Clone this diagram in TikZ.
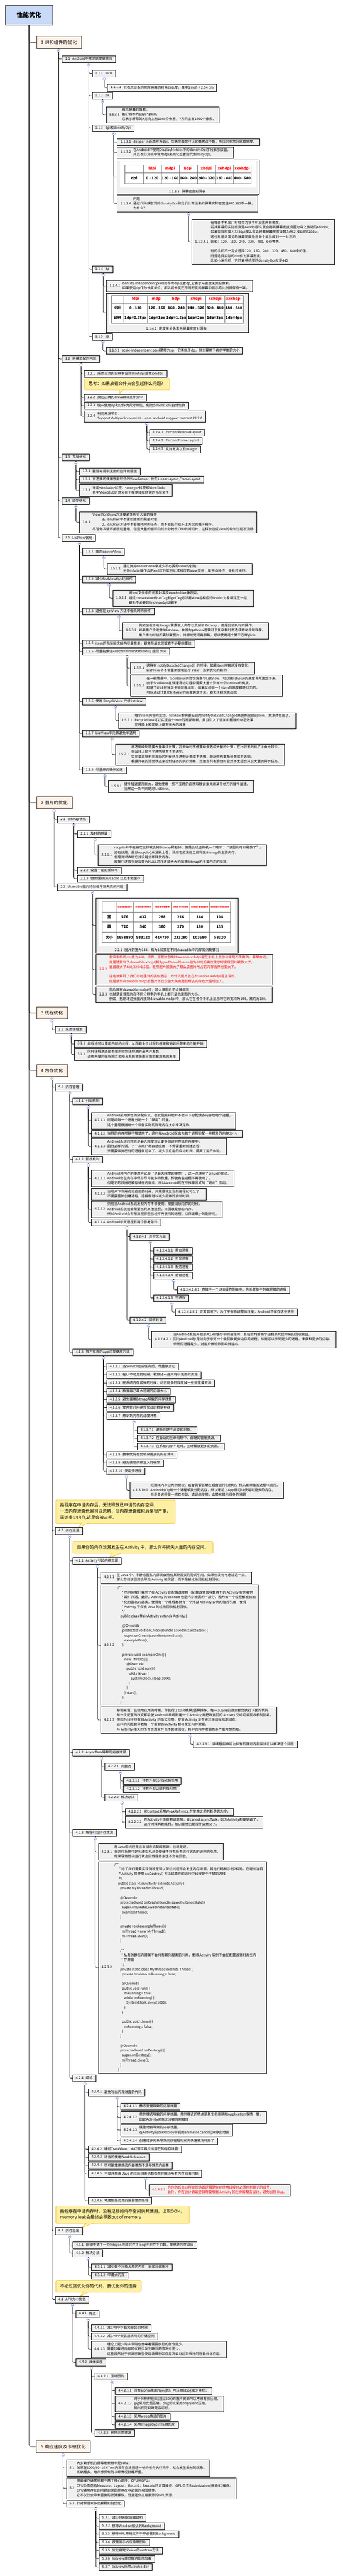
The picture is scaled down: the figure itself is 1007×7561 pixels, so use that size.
\documentclass[tikz,border=0pt]{standalone}
\usepackage{fontspec}
\setmainfont{Noto Sans CJK SC}
\usetikzlibrary{calc}
\definecolor{nodegray}{HTML}{F0F0F0}
\definecolor{l1fill}{HTML}{FDF2E9}
\definecolor{l1border}{HTML}{4A3A2E}
\definecolor{rootfill}{HTML}{C9DAF8}
\definecolor{collblue}{HTML}{5B87D0}
\definecolor{cofill}{HTML}{FDF0A4}
\definecolor{coborder}{HTML}{F2B21B}
\definecolor{tblgrid}{HTML}{7A7A7A}
\newcommand{\tl}[2]{#1\hspace{7pt}\begin{tabular}[c]{@{}l@{}}#2\end{tabular}}
\newcommand{\idt}[1]{\hspace*{#1pt}}
\newcommand{\cl}[1]{\begin{tabular}{@{}l@{}}#1\end{tabular}}
\tikzset{
  conn/.style={draw=black, line width=0.9pt, rounded corners=4pt},
  nb/.style={draw=black, line width=0.8pt, fill=nodegray, inner xsep=9.5pt, inner ysep=3pt, anchor=west, font=\fontsize{10}{14}\selectfont, text=black},
  l1/.style={draw=l1border, line width=0.9pt, fill=l1fill, inner xsep=13pt, inner ysep=0pt, minimum height=35pt, anchor=west, font=\fontsize{13.5}{18}\selectfont},
  rootbox/.style={draw=black!80, line width=0.9pt, fill=rootfill, minimum width=138pt, minimum height=57pt, font=\fontsize{18}{22}\selectfont\bfseries},
  coll/.style={circle, draw=collblue, fill=white, line width=0.6pt, minimum size=8.5pt, inner sep=0pt,
    path picture={\draw[collblue, line width=0.7pt] ([xshift=-2.2pt]path picture bounding box.center) -- ([xshift=2.2pt]path picture bounding box.center);}},
  callout/.style={draw=coborder, fill=cofill, rounded corners=4pt, line width=0.8pt, inner xsep=13pt, inner ysep=8pt, anchor=north west, font=\fontsize{12.5}{18}\selectfont},
  tailst/.style={draw=coborder, fill=cofill, line width=0.8pt, line join=round},
  tbl/.style={draw=tblgrid, line width=0.7pt},
  thr/.style={inner sep=0pt, text=red, font=\fontsize{11}{13}\selectfont\bfseries},
  thrs/.style={inner sep=0pt, text=red, font=\fontsize{5.8}{7}\selectfont\bfseries},
  tbd/.style={inner sep=0pt, text=black, font=\fontsize{11}{13}\selectfont\bfseries},
  capt/.style={inner sep=0pt, font=\fontsize{10}{14}\selectfont},
}
\newcommand{\branch}[4]{%
  \node[coll] (#1) at (#2) {};
  \draw[conn] (#1.north) -- (#1.north |- #3.south);
  \foreach \k in {#4}{\draw[conn] (#1.south) |- (\k.west);}%
}
\newcommand{\tail}[5]{\filldraw[tailst] (#1,#3) -- (#4,#5) -- (#2,#3);}
\begin{document}
\begin{tikzpicture}[x=1pt,y=-1pt]
\useasboundingbox (0,0) rectangle (1007,7561);
\fill[white] (0,0) rectangle (1007,7561);

% ---------- root and level 1
\node[rootbox] (root) at (85,44.5) {性能优化};
\node[l1] (n1) at (107,124.5) {1 UI和组件的优化};
\node[l1] (n2) at (107,2356) {2 图片的优化};
\node[l1] (n3) at (107,2973) {3 线程优化};
\node[l1] (n4) at (107,3142) {4 内存优化};
\node[l1] (n5) at (106.6,7181.3) {5 响应速度及卡顿优化};

% ---------- 1
\node[nb] (n11) at (182,173.5) {\tl{1.1}{Android中常见的度量单位}};
\node[nb] (n111) at (270,215.5) {\tl{1.1.1}{inch}};
\node[nb] (n1111) at (315,257.5) {\tl{1.1.1.1}{它表示设备的物理屏幕的对角线长度，其中1 inch = 2.54 cm}};
\node[nb] (n112) at (270,281) {\tl{1.1.2}{px}};
\node[nb] (n1121) at (311,337) {\tl{1.1.2.1}{表示屏幕的像素。\\如分辨率为1920*1080，\\它表示屏幕的X方向上有1080个像素，Y方向上有1920个像素。}};
\node[nb] (n113) at (270,376) {\tl{1.1.3}{dpi和densityDpi}};
\node[nb] (n1131) at (344,417.5) {\tl{1.1.3.1}{dot per inch简称为dpi，它表示每英寸上的像素点个数，所以它也常为屏幕密度。}};
\node[nb] (n1132) at (344,448) {\tl{1.1.3.2}{在Android中使用DisplayMetrics中的densityDpi字段表示该值，\\并且不少文档中常用dpi来简化或者指代densityDpi。}};
% table 1.1.3.3
\node[nb, anchor=north west, minimum width=416pt, minimum height=101pt, inner sep=0pt] (n1133) at (344,469) {};
\fill[white] (353,472) rectangle (752,550);
\draw[tbl] (367,484) rectangle (737,539);
\draw[tbl] (367,507) -- (737,507);
\foreach \x in {421,473,526,579,632,685} \draw[tbl] (\x,484) -- (\x,539);
\foreach \x/\t [count=\i] in {447/ldpi,499.5/mdpi,552.5/hdpi,605.5/xhdpi,658.5/xxhdpi,711/xxxhdpi} \node[thr] (ta\i) at (\x,495.5) {\t};
\foreach \x/\t [count=\i] in {394/dpi,447/0 - 120,499.5/120 - 160,552.5/160 - 240,605.5/240 - 320,658.5/320 - 480,711/480 - 640} \node[tbd] (tb\i) at (\x,523) {\t};
\node[capt] (cap1) at (550,562) {1.1.3.3\hspace{7pt}屏幕密度对照表};
\node[nb] (n1134) at (344,598) {\tl{1.1.3.4}{问题\\通过代码获取到的densityDpi和我们计算出来的屏幕实际密度值440.582不一样，\\为什么？}};
\node[nb] (n11341) at (563,710) {\tl{1.1.3.4.1}{在每部手机出厂时都会为该手机设置屏幕密度，\\若其屏幕的实际密度是440dpi那么就会将其屏幕密度设置为与之接近的480dpi；\\如果实际密度为325dpi那么就会将其屏幕密度设置为与之接近的320dpi。\\这也就是说常见的屏幕密度是与每个显示级别一一对应的，\\比如：120、160、240、320、480、640等等。\\ \\有的手机不一定会选择120、160、240、320、480、640中的值，\\而是选择实际的dpi作为屏幕密度。\\比如小米手机，它的某些机型的densityDpi就是440}};
\node[nb] (n114) at (270,790) {\tl{1.1.4}{dp}};
\node[nb] (n1141) at (312,839.5) {\tl{1.1.4.1}{density-independent pixel简称为dip或者dp,它表示与密度无关的像素。\\如果使用dp作为长度单位，那么该长度在不同密度的屏幕中显示的比例将保持一致。}};
% table 1.1.4.2
\node[nb, anchor=north west, minimum width=417pt, minimum height=115pt, inner sep=0pt] (n1142) at (312,860) {};
\fill[white] (320,862) rectangle (719,953);
\draw[tbl] (327,867) rectangle (714,948);
\draw[tbl] (327,889) -- (714,889);
\draw[tbl] (327,918) -- (714,918);
\foreach \x in {363,433,488,547,604,659} \draw[tbl] (\x,867) -- (\x,948);
\foreach \x/\t [count=\i] in {398/ldpi,460.5/mdpi,517.5/hdpi,575.5/xhdpi,631.5/xxhdpi,686.5/xxxhdpi} \node[thr] (tc\i) at (\x,878) {\t};
\foreach \x/\t [count=\i] in {345/dpi,398/0 - 120,460.5/120 - 160,517.5/160 - 240,575.5/240 - 320,631.5/320 - 480,686.5/480 - 640} \node[tbd] (td\i) at (\x,903.5) {\t};
\foreach \x/\t [count=\i] in {345/比例,398/1dp=0.75px,460.5/1dp=1px,517.5/1dp=1.5px,575.5/1dp=2px,631.5/1dp=3px,686.5/1dp=4px} \node[tbd] (te\i) at (\x,933) {\t};
\node[capt] (cap2) at (518,965) {1.1.4.2\hspace{7pt}密度无关像素与屏幕密度对照表};
\node[nb] (n115) at (270,988.5) {\tl{1.1.5}{sp}};
\node[nb] (n1151) at (311,1030) {\tl{1.1.5.1}{scale-independent pixel简称为sp，它类似于dp，但主要用于表示字体的大小}};
\node[nb] (n12) at (182,1054) {\tl{1.2}{屏幕适配的问题}};
\node[nb] (n121) at (247,1097) {\tl{1.2.1}{采用主流的分辨率设计UI(xhdpi或者xxhdpi)}};
\node[callout] (co1) at (247,1110) {\cl{思考：如果放错文件夹会引起什么问题？}};
\tail{351}{363}{1142}{351}{1156.5}
\node[nb] (n122) at (247,1166.5) {\tl{1.2.2}{放在正确的drawable文件夹中}};
\node[nb] (n123) at (247,1190.5) {\tl{1.2.3}{统一使用dp和sp作为尺寸单位，利用dimens.xml自动切换}};
\node[nb] (n124) at (247,1222) {\tl{1.2.4}{利用开源项目：\\SupportMultipleScreensUtil、com.android.support:percent:22.2.0}};
\node[nb] (n1241) at (439,1270) {\tl{1.2.4.1}{PercentRelativeLayout}};
\node[nb] (n1242) at (439,1294.5) {\tl{1.2.4.2}{PercentFrameLayout}};
\node[nb] (n1243) at (439,1319) {\tl{1.2.4.3}{支持宽高以及margin}};
\node[nb] (n13) at (182,1343) {\tl{1.3}{布局优化}};
\node[nb] (n131) at (233,1384) {\tl{1.3.1}{删除布局中无用的控件和层级}};
\node[nb] (n132) at (233,1408) {\tl{1.3.2}{有选择的使用性能较低的ViewGroup：优先LinearLayout,FrameLayout}};
\node[nb] (n133) at (233,1439.5) {\tl{1.3.3}{采用<include>标签、<merge>标签和ViewStub。\\其中ViewStub的意义在于按需加载所需的布局文件}};
\node[nb] (n14) at (182,1470.5) {\tl{1.4}{绘制优化}};
\node[nb] (n141) at (233,1533) {\tl{1.4.1}{View的onDraw方法要避免执行大量的操作\\\idt{28}1、onDraw中不要创建新的局部对象\\\idt{28}2、onDraw方法中不要做耗时的任务，也不能执行成千上万次的循环操作。\\尽管每次循环都很轻量级，但是大量的循环仍然十分抢占CPU的时间片，这样会造成View的绘制过程不流畅}};
\node[nb] (n15) at (182,1579) {\tl{1.5}{ListView优化}};
\node[nb] (n151) at (242,1620) {\tl{1.5.1}{重用converView}};
\node[nb] (n1511) at (314,1669.5) {\tl{1.5.1.1}{通过复用converview来减少不必要的view的创建，\\另外infalte操作会把xml文件实例化成相应的View实例，属于IO操作，是耗时操作。}};
\node[nb] (n152) at (242,1701) {\tl{1.5.2}{减少findViewById()操作}};
\node[nb] (n1521) at (331,1756) {\tl{1.5.2.1}{将xml文件中的元素封装成viewholder静态类，\\通过converview的setTag和getTag方法将view与相应的holder对象绑定在一起，\\避免不必要的findviewbyid操作}};
\node[nb] (n153) at (242,1795) {\tl{1.5.3}{避免在 getView 方法中做耗时的操作}};
\node[nb] (n1531) at (360,1851) {\tl{1.5.3.1}{例如加载本地 Image 需要载入内存以及解析 Bitmap ，都是比较耗时的操作，\\如果用户快速滑动listview，会因为getview逻辑过于复杂耗时而造成滑动卡顿现象。\\用户滑动时候不要加载图片，待滑动完成再加载，可以使用这个第三方库glide}};
\node[nb] (n154) at (242,1889) {\tl{1.5.4}{item的布局层次结构尽量简单，避免布局太深或者不必要的重绘}};
\node[nb] (n155) at (242,1912) {\tl{1.5.5}{尽量能保证Adapter的hasStableIds() 返回 true}};
\node[nb] (n1551) at (383,1961) {\tl{1.5.5.1}{这样在 notifyDataSetChanged() 的时候，如果item内容并没有变化，\\ListView 将不会重新绘制这个 View，达到优化的目的}};
\node[nb] (n1552) at (383,2013) {\tl{1.5.5.2}{在一些场景中，ScollView内会包含多个ListView，可以把listview的高度写死固定下来。\\由于ScollView在快速滑动过程中需要大量计算每一个listview的高度，\\阻塞了UI线程导致卡顿现象出现，如果我们每一个item的高度都是均匀的，\\可以通过计算把listview的高度确定下来，避免卡顿现象出现}};
\node[nb] (n156) at (242,2059) {\tl{1.5.6}{使用 RecycleView 代替listview}};
\node[nb] (n1561) at (348,2115) {\tl{1.5.6.1}{每个item内容的变动，listview都需要去调用notifyDataSetChanged来更新全部的item，太浪费性能了。\\RecycleView可以实现当个item的局部刷新，并且引入了增加和删除的动态效果，\\在性能上和定制上都有很大的改善}};
\node[nb] (n157) at (242,2152.5) {\tl{1.5.7}{ListView中元素避免半透明}};
\node[nb] (n1571) at (338,2215) {\tl{1.5.7.1}{半透明绘制需要大量乘法计算，在滑动时不停重绘会造成大量的计算，在比较差的机子上会比较卡。\\在设计上能不半透明就不不半透明。\\实在要弄就把在滑动的时候把半透明设置成不透明，滑动完再重新设置成半透明。\\根据列表的滑动状态来控制任务的执行频率，比如当列表滑动时显然不太适合开启大量的异步任务。}};
\node[nb] (n158) at (242,2260) {\tl{1.5.8}{尽量开启硬件加速}};
\node[nb] (n1581) at (317,2309) {\tl{1.5.8.1}{硬件加速提升巨大，避免使用一些不支持的函数导致含泪关闭某个地方的硬件加速。\\当然这一条不只是对 ListView。}};

% ---------- 2
\node[nb] (n21) at (168,2405.5) {\tl{2.1}{Bitmap优化}};
\node[nb] (n211) at (227,2447.5) {\tl{2.1.1}{及时的销毁}};
\node[nb] (n2111) at (288,2510) {\tl{2.1.1.1}{recycle并不能确定立即就会将Bitmap释放掉，但是会给虚拟机一个暗示：“该图片可以释放了”。\\还有就是，虽然recycle()从源码上看，调用它应该能立即释放Bitmap的主要内存，\\但是测试表明它并没能立即释放内存。\\故我们还需手动设置为NULL这样还能大大的加速Bitmap的主要内存的释放。}};
\node[nb] (n212) at (227,2555) {\tl{2.1.2}{设置一定的采样率}};
\node[nb] (n213) at (227,2579) {\tl{2.1.3}{使用缓存LruCache 以及本地缓存}};
\node[nb] (n22) at (168,2603.5) {\tl{2.2}{drawable图片的加载导致失真的问题}};
% table 2.2.1
\node[nb, anchor=north west, minimum width=416pt, minimum height=162pt, inner sep=0pt] (n221) at (282,2635.5) {};
\fill[white] (290,2637.5) rectangle (690,2777);
\draw[tbl] (300.5,2646) rectangle (676.5,2766.5);
\foreach \y in {2677.5,2705,2736} \draw[tbl] (300.5,\y) -- (676.5,\y);
\foreach \x in {341,392,448.5,503.5,557.5,615} \draw[tbl] (\x,2646) -- (\x,2766.5);
\foreach \x/\t [count=\i] in {366.5/ldpi-drawable,420.25/mdpi-drawable,476/hdpi-drawable,530.5/xhdpi-drawable,586.25/xxhdpi-drawable,645.75/xxxhdpi-drawable} \node[thrs] (tf\i) at (\x,2661.75) {\t};
\foreach \x/\t [count=\i] in {320.75/宽,366.5/576,420.25/432,476/288,530.5/216,586.25/144,645.75/108} \node[tbd] (tg\i) at (\x,2691.25) {\t};
\foreach \x/\t [count=\i] in {320.75/高,366.5/720,420.25/540,476/360,530.5/270,586.25/180,645.75/135} \node[tbd] (th\i) at (\x,2720.5) {\t};
\foreach \x/\t [count=\i] in {320.75/大小,366.5/1658880,420.25/933120,476/414720,530.5/233280,586.25/103680,645.75/58320} \node[tbd] (ti\i) at (\x,2751.25) {\t};
\node[capt] (cap3) at (490,2788) {2.2.1\hspace{7pt}图片的宽为144，高为180放在不同drawable中内存的消耗情况};
\node[nb, text=red] (n222) at (282,2846) {\tl{2.2.2}{假设手机的dpi值为480，把有一张图片放到drawable-xxhdpi里在手机上显示出来是不失真的，非常合适；\\但是错放到了drawable-xhdpi(其TypedValue的value值为320)后再次显示时发现图片被放大了，\\而且放大了480/320=1.5倍。既然图片被放大了那么该图片所占的内存当然也变大了。\\ \\这也就解释了我们有时遇到的类似困惑：为什么图片放在drawable-xxhdpi是正常的，\\但是放到drawable-mdpi后图片不仅仅放大失真而且所占内存也大幅增加了。}};
\node[nb] (n223) at (282,2919.6) {\tl{2.2.3}{图片放在drawable-nodpi中，那么该图片不会被缩放；\\也就是说该图片在不同分辨率的手机上都只显示原图的大小。\\例如，把刚才这张图片放到drawable-nodpi中，那么它在各个手机上显示时它的宽均为144，高均为180。}};

% ---------- 3
\node[nb] (n31) at (162,3022) {\tl{3.1}{采用线程池}};
\node[nb] (n311) at (218,3064) {\tl{3.1.1}{线程池可以重用内部的线程，从而避免了线程的创建和销毁所带来的性能开销}};
\node[nb] (n312) at (218,3095) {\tl{3.1.2}{同时线程池还能有效的控制线程池的最大并发数，\\避免大量的线程因互相抢占系统资源而导致阻塞现象的发生}};

% ---------- 4.1
\node[nb] (n41) at (162,3191) {\tl{4.1}{内存管理}};
\node[nb] (n411) at (213,3233) {\tl{4.1.1}{分配机制}};
\node[nb] (n4111) at (268,3289) {\tl{4.1.1.1}{Android采用弹性的分配方式，也就是刚开始并不会一下分配很多内存给每个进程，\\而是给每一个进程分配一个“够用”的量。\\这个量是根据每一个设备实际的物理内存大小来决定的。}};
\node[nb] (n4112) at (268,3327.5) {\tl{4.1.1.2}{当前的内存可能不够使用了，这时候Android又会为每个进程分配一些额外的内存大小。}};
\node[nb] (n4113) at (268,3365.5) {\tl{4.1.1.3}{Android系统的宗旨是最大限度的让更多的进程存活在内存中，\\因为这样的话，下一次用户再启动应用，不需要重新创建进程，\\只需要恢复已有的进程就可以了，减少了应用的启动时间，提高了用户体验。}};
\node[nb] (n412) at (213,3403.5) {\tl{4.1.2}{回收机制}};
\node[nb] (n4121) at (268,3459) {\tl{4.1.2.1}{Android对内存的使用方式是“尽最大限度的使用”，这一点继承了Linux的优点。\\Android会在内存中保存尽可能多的数据，即使有些进程不再使用了，\\但是它的数据还被存储在内存中，所以Android现在不推荐显式的“退出”应用。}};
\node[nb] (n4122) at (268,3505) {\tl{4.1.2.2}{当用户下次再启动应用的时候，只需要恢复当前进程就可以了，\\不需要重新创建进程，这样就可以减少应用的启动时间。}};
\node[nb] (n4123) at (268,3549.5) {\tl{4.1.2.3}{只有当Android系统发现内存不够使用，需要回收内存的时候，\\Android系统就会需要杀死其他进程，来回收足够的内存。\\所以Android会有限清理那些已经不再使用的进程，以保证最小的副作用。}};
\node[nb] (n4124) at (268,3588) {\tl{4.1.2.4}{Android杀死进程有两个参考条件}};
\node[nb] (n41241) at (381.6,3630) {\tl{4.1.2.4.1}{进程优先级}};
\node[nb] (n412411) at (450.5,3671.6) {\tl{4.1.2.4.1.1}{前台进程}};
\node[nb] (n412412) at (450.5,3695.7) {\tl{4.1.2.4.1.2}{可见进程}};
\node[nb] (n412413) at (450.5,3719.8) {\tl{4.1.2.4.1.3}{服务进程}};
\node[nb] (n412414) at (450.5,3743.9) {\tl{4.1.2.4.1.4}{后台进程}};
\node[nb] (n4124141) at (520,3785.8) {\tl{4.1.2.4.1.4.1}{存放于一个LRU缓存列表中，先杀死处于列表尾部的进程}};
\node[nb] (n412415) at (450.5,3810) {\tl{4.1.2.4.1.5}{空进程}};
\node[nb] (n4124151) at (514,3851) {\tl{4.1.2.4.1.5.1}{正常情况下，为了平衡系统整体性能，Android不保存这些进程}};
\node[nb] (n41242) at (381.6,3875.5) {\tl{4.1.2.4.2}{回收收益}};
\node[nb] (n412421) at (445,3931.6) {\tl{4.1.2.4.2.1}{当Android系统开始杀死LRU缓存中的进程时，系统会判断每个进程杀死后带来的回收收益。\\因为Android总是倾向于杀死一个能回收更多内存的进程，从而可以杀死更少的进程，来获取更多的内存。\\杀死的进程越少，对用户体验的影响就越小。}};
\node[nb] (n413) at (213,3969.6) {\tl{4.1.3}{官方推荐的App内存使用方式}};
\node[nb] (n4131) at (312.8,4011.6) {\tl{4.1.3.1}{当Service完成任务后，尽量停止它}};
\node[nb] (n4132) at (312.8,4035.7) {\tl{4.1.3.2}{在UI不可见的时候，释放掉一些只有UI使用的资源}};
\node[nb] (n4133) at (312.8,4059.8) {\tl{4.1.3.3}{在系统内存紧张的时候，尽可能多的释放掉一些非重要资源}};
\node[nb] (n4134) at (312.8,4083.9) {\tl{4.1.3.4}{检查自己最大可用的内存大小}};
\node[nb] (n4135) at (312.8,4108) {\tl{4.1.3.5}{避免滥用Bitmap导致的内存浪费}};
\node[nb] (n4136) at (312.8,4132) {\tl{4.1.3.6}{使用针对内存优化过的数据容器}};
\node[nb] (n4137) at (312.8,4156) {\tl{4.1.3.7}{意识到内存的过度消耗}};
\node[nb] (n41371) at (402.6,4198) {\tl{4.1.3.7.1}{避免创建不必要的对象。}};
\node[nb] (n41372) at (402.6,4222) {\tl{4.1.3.7.2}{在合适的生命周期中，合理的管理资源。}};
\node[nb] (n41373) at (402.6,4246.3) {\tl{4.1.3.7.3}{在系统内存不足时，主动释放更多的资源。}};
\node[nb] (n4138) at (312.8,4270.4) {\tl{4.1.3.8}{抽象代码也会带来更多的内存消耗}};
\node[nb] (n4139) at (312.8,4294.5) {\tl{4.1.3.9}{避免使用依赖注入的框架}};
\node[nb] (n41310) at (312.8,4318.6) {\tl{4.1.3.10}{使用多进程}};
\node[nb] (n413101) at (380.6,4374) {\tl{4.1.3.10.1}{把消耗内存过大的模块，或者需要长期在后台运行的模块，移入到单独的进程中运行。\\Android会为每一个进程单独分配内存，所以理论上App就可以使用到更多的内存。\\但是多进程是一把双刃剑，错误的使用，会带来其他很多的问题}};

% ---------- 4.2
\node[callout] (co2) at (163,4401.6) {\cl{指程序在申请内存后，无法释放已申请的内存空间，\\一次内存泄露危害可以忽略，但内存泄露堆积后果很严重，\\无论多少内存,迟早会被占光。}};
\tail{240}{262}{4469.4}{231}{4483}
\node[nb] (n42) at (162,4493) {\tl{4.2}{内存泄漏}};
\node[callout] (co3) at (213,4525) {\cl{如果你的内存泄漏发生在 Activity 中，那么你将损失大量的内存空间。}};
\tail{328}{360}{4557.6}{322}{4571.4}
\node[nb] (n421) at (213,4581.4) {\tl{4.2.1}{Activity引起内存泄漏}};
\node[nb] (n4211) at (295.4,4630.4) {\tl{4.2.1.1}{在 Java 中，非静态匿名内部类会持有其外部类的隐式引用，如果你没有考虑过这一点，\\那么存储该引用会导致 Activity 被保留，而不是被垃圾回收机制回收。}};
\node[nb] (n4212) at (295.4,4829.4) {\tl{4.2.1.2}{\idt{2}/**\\\idt{15}* 示例向我们展示了在 Activity 的配置改变时（配置改变会导致其下的 Activity 实例被销\\\idt{15}* 毁）存活。此外，Activity 的 context 也是内存泄漏的一部分，因为每一个线程都被初始\\\idt{15}* 化为匿名内部类，使得每一个线程都持有一个外部 Activity 实例的隐式引用，使得\\\idt{15}* Activity 不会被 Java 的垃圾回收机制回收。\\\idt{15}*/\\\idt{11}public class MainActivity extends Activity \{\\ \\\idt{17}@Override\\\idt{17}protected void onCreate(Bundle savedInstanceState) \{\\\idt{23}super.onCreate(savedInstanceState);\\\idt{23}exampleOne();\\\idt{17}\}\\ \\\idt{17}private void exampleOne() \{\\\idt{23}new Thread() \{\\\idt{29}@Override\\\idt{29}public void run() \{\\\idt{35}while (true) \{\\\idt{41}SystemClock.sleep(1000);\\\idt{35}\}\\\idt{29}\}\\\idt{23}\}.start();\\\idt{17}\}\\\idt{11}\}}};
\node[nb] (n4213) at (295.4,5049) {\tl{4.2.1.3}{举例来说，在使用应用的时候，你执行了10次横屏/竖屏操作，每一次方向的改变都会执行下面的代码，\\每一次配置的改变都会使 Android 系统新建一个 Activity 并把改变前的 Activity 交给垃圾回收机制回收。\\但因为线程持有旧 Activity 的隐式引用，使该 Activity 没有被垃圾回收机制回收。\\这样的问题会导致每一个新建的 Activity 都将发生内存泄漏。\\与 Activity 相关的所有资源文件也不会被回收，其中的内存泄漏有多严重可想而知。}};
\node[nb] (n42131) at (567,5119.5) {\tl{4.2.1.3.1}{该线程类声明为私有的静态内部类就可以解决这个问题}};
\node[nb] (n422) at (213,5143.5) {\tl{4.2.2}{AsyncTask导致的内存泄漏}};
\node[nb] (n4221) at (307.7,5185.5) {\tl{4.2.2.1}{问题点}};
\node[nb] (n42211) at (362,5227.6) {\tl{4.2.2.1.1}{持有外部context强引用}};
\node[nb] (n42212) at (362,5251.6) {\tl{4.2.2.1.2}{持有外部UI组件强引用}};
\node[nb] (n4222) at (307.7,5275.7) {\tl{4.2.2.2}{解决办法}};
\node[nb] (n42221) at (367.3,5317.8) {\tl{4.2.2.2.1}{对context采用WeakRefrence,在使用之前判断是否为空。}};
\node[nb] (n42222) at (367.3,5348.4) {\tl{4.2.2.2.2}{在Activity生命周期结束前，去cancel AsyncTask，因为Activity都要销毁了，\\这个时候再跑线程，绘UI显然已经没什么意义了。}};
\node[nb] (n423) at (213,5379.8) {\tl{4.2.3}{线程引起内存泄漏}};
\node[nb] (n4231) at (288.3,5435.7) {\tl{4.2.3.1}{在Java中线程是垃圾回收机制的根源，也就是说，\\在运行系统中DVM虚拟机总会使硬件持有所有运行状态的进程的引用，\\结果导致处于运行状态的线程将永远不会被回收。}};
\node[nb] (n4232) at (288.3,5774.5) {\tl{4.2.3.2}{/**\\\idt{14}* 除了我们需要实现销毁逻辑以保证线程不会发生内存泄漏，其他代码和示例2相同。在退出当前\\\idt{14}* Activity 前使用 onDestroy() 方法结束你的运行中线程是个不错的选择\\\idt{14}*/\\\idt{11}public class MainActivity extends Activity \{\\\idt{17}private MyThread mThread;\\ \\\idt{17}@Override\\\idt{17}protected void onCreate(Bundle savedInstanceState) \{\\\idt{23}super.onCreate(savedInstanceState);\\\idt{23}exampleThree();\\\idt{17}\}\\ \\\idt{17}private void exampleThree() \{\\\idt{23}mThread = new MyThread();\\\idt{23}mThread.start();\\\idt{17}\}\\ \\\idt{17}/**\\\idt{21}* 私有的静态内部类不会持有其外部类的引用，使得 Activity 实例不会在配置改变时发生内\\\idt{21}* 存泄漏\\\idt{21}*/\\\idt{17}private static class MyThread extends Thread \{\\\idt{23}private boolean mRunning = false;\\ \\\idt{23}@Override\\\idt{23}public void run() \{\\\idt{29}mRunning = true;\\\idt{29}while (mRunning) \{\\\idt{35}SystemClock.sleep(1000);\\\idt{29}\}\\\idt{23}\}\\ \\\idt{23}public void close() \{\\\idt{29}mRunning = false;\\\idt{23}\}\\\idt{17}\}\\ \\\idt{17}@Override\\\idt{17}protected void onDestroy() \{\\\idt{23}super.onDestroy();\\\idt{23}mThread.close();\\\idt{17}\}\\\idt{11}\}}};
\node[nb] (n424) at (213,6099.4) {\tl{4.2.4}{结论}};
\node[nb] (n4241) at (258.7,6141.4) {\tl{4.2.4.1}{避免写出内存泄露的代码}};
\node[nb] (n42411) at (353.6,6183.5) {\tl{4.2.4.1.1}{静态变量导致的内存泄露}};
\node[nb] (n42412) at (353.6,6214.5) {\tl{4.2.4.1.2}{单例模式导致的内存泄露，单例模式的特点是其生命周期和Application保持一致，\\因此Activity对象无法被及时释放}};
\node[nb] (n42413) at (353.6,6252.4) {\tl{4.2.4.1.3}{属性动画导致的内存泄露，\\在Activity的onDestroy中调用animator.cancel()来停止动画}};
\node[nb] (n42414) at (353.6,6283.9) {\tl{4.2.4.1.4}{创建过多对象导致内存在短时间内快速被消耗掉了}};
\node[nb] (n4242) at (258.7,6308) {\tl{4.2.4.2}{通过TraceView、MAT等工具找出潜在的内存泄露}};
\node[nb] (n4243) at (258.7,6332) {\tl{4.2.4.3}{适当的使用WeakReference}};
\node[nb] (n4244) at (258.7,6356) {\tl{4.2.4.4}{尽可能使用静态内部类而不是非静态内部类}};
\node[nb] (n4245) at (258.7,6380.2) {\tl{4.2.4.5}{不要总想着 Java 的垃圾回收机制会帮你解决所有内存回收问题}};
\node[nb, text=red] (n42451) at (436.7,6428.4) {\tl{4.2.4.5.1}{为你的后台线程实现销毁逻辑是你在使用线程时必须时刻铭记的细节，\\此外，你在设计销毁逻辑时要根据 Activity 的生命周期去设计，避免出现 Bug。}};
\node[nb] (n4246) at (258.7,6459.4) {\tl{4.2.4.6}{考虑你是否真的需要使用线程}};

% ---------- 4.3 / 4.4
\node[callout] (co4) at (163.3,6473.9) {\cl{指程序在申请内存时，没有足够的内存空间供其使用，出现OOM。\\memory leak会最终会导致out of memory}};
\tail{255}{280}{6523.3}{240}{6538}
\node[nb] (n43) at (162,6548) {\tl{4.3}{内存溢出}};
\node[nb] (n431) at (213.3,6589.6) {\tl{4.3.1}{比如申请了一个Integer,但给它存了long才能存下的数，那就是内存溢出}};
\node[nb] (n432) at (213.3,6613.3) {\tl{4.3.2}{解决办法}};
\node[nb] (n4321) at (268.4,6655.3) {\tl{4.3.2.1}{减少每个对象占用的内存，比如压缩图片}};
\node[nb] (n4322) at (268.4,6679.4) {\tl{4.3.2.2}{申请大内存}};
\node[callout] (co5) at (163.3,6693.5) {\cl{不必过度优化你的代码，要优化你的选择}};
\tail{245}{262}{6725.8}{235}{6739.6}
\node[nb] (n44) at (162,6749.6) {\tl{4.4}{APK大小优化}};
\node[nb] (n441) at (222.4,6791.6) {\tl{4.4.1}{优点}};
\node[nb] (n4411) at (267.3,6833.3) {\tl{4.4.1.1}{减少APP下载和安装的时间}};
\node[nb] (n4412) at (267.3,6857.3) {\tl{4.4.1.2}{减少APP安装后占用的存储空间}};
\node[nb] (n4413) at (267.3,6895.5) {\tl{4.4.1.3}{理论上更少的字节码也意味着需要执行的指令更少，\\需要加载进内存的代码页发生缺页的情况也更少，\\这些显然对于资源密集型使用场景例如应用冷启动起到很好的性能优化作用。}};
\node[nb] (n442) at (222.4,6933.7) {\tl{4.4.2}{具体实施}};
\node[nb] (n4421) at (277.6,6975.7) {\tl{4.4.2.1}{压缩图片}};
\node[nb] (n44211) at (337.8,7017.5) {\tl{4.4.2.1.1}{没有alpha通道的png图，可压缩成jpg减少体积；}};
\node[nb] (n44212) at (337.8,7055.3) {\tl{4.4.2.1.2}{对于体积特别大(超过50k)的图片资源可以考虑有损压缩，\\jpg采用优图压缩，png尝试采用pngquant压缩，\\输出视觉判断是否可行；}};
\node[nb] (n44213) at (337.8,7093.4) {\tl{4.4.2.1.3}{采用webp格式的图片}};
\node[nb] (n44214) at (337.8,7117.6) {\tl{4.4.2.1.4}{采用 ImageOptim压缩图片}};
\node[nb] (n4422) at (277.6,7141.3) {\tl{4.4.2.2}{删除无用资源}};

% ---------- 5
\node[nb] (n51) at (194.4,7244.2) {\tl{5.1}{大多数手机的屏幕刷新频率是60hz，\\如果在1000/60=16.67ms内没有办法把这一帧的任务执行完毕，就会发生丢帧的现象。\\丢帧越多，用户感受到的卡顿情况就越严重。}};
\node[nb] (n52) at (194.4,7303.5) {\tl{5.2}{渲染操作通常依赖于两个核心组件：CPU与GPU。\\CPU负责包括Measure，Layout，Record，Execute的计算操作，GPU负责Rasterization(栅格化)操作。\\CPU通常存在的问题的原因是存在非必需的视图组件，\\它不仅仅会带来重复的计算操作，而且还会占用额外的GPU资源。}};
\node[nb] (n53) at (194.4,7348.3) {\tl{5.3}{针对原理来作出解释如何优化}};
\node[nb] (n531) at (290.3,7390.5) {\tl{5.3.1}{减少视图的层级结构}};
\node[nb] (n532) at (290.3,7414.6) {\tl{5.3.2}{移除Window默认的Background}};
\node[nb] (n533) at (290.3,7438.4) {\tl{5.3.3}{移除XML布局文件中非必需的Background}};
\node[nb] (n534) at (290.3,7462.5) {\tl{5.3.4}{按需显示占位背景图片}};
\node[nb] (n535) at (290.3,7486.3) {\tl{5.3.5}{优化自定义view的ondraw方法}};
\node[nb] (n536) at (290.3,7510.4) {\tl{5.3.6}{listview滑动取消图片加载}};
\node[nb] (n537) at (290.3,7534.6) {\tl{5.3.7}{listview采用viewholder}};

% ---------- connectors
\foreach \k in {n1,n2,n3,n4,n5} \draw[conn, rounded corners=6pt] (root.south) |- (\k.west);
\branch{c1}{172,148}{n1}{n11,n12,n13,n14,n15}
\branch{c11}{261,190}{n11}{n111,n112,n113,n114,n115}
\branch{c111}{306,232}{n111}{n1111}
\branch{c112}{301,298}{n112}{n1121}
\branch{c113}{334,392}{n113}{n1131,n1132,n1133,n1134}
\branch{c1134}{554,629}{n1134}{n11341}
\branch{c114}{303,807}{n114}{n1141,n1142}
\branch{c115}{302,1005}{n115}{n1151}
\branch{c12}{238,1071}{n12}{n121,n122,n123,n124}
\branch{c124}{431,1245}{n124}{n1241,n1242,n1243}
\branch{c13}{223,1360}{n13}{n131,n132,n133}
\branch{c14}{223,1487}{n14}{n141}
\branch{c15}{233,1595}{n15}{n151,n152,n153,n154,n155,n156,n157,n158}
\branch{c151}{305,1637}{n151}{n1511}
\branch{c152}{321,1717}{n152}{n1521}
\branch{c153}{350,1811}{n153}{n1531}
\branch{c155}{373,1929}{n155}{n1551,n1552}
\branch{c156}{339,2075.5}{n156}{n1561}
\branch{c157}{329,2169}{n157}{n1571}
\branch{c158}{308,2277.5}{n158}{n1581}
\branch{c2}{159,2380}{n2}{n21,n22}
\branch{c21}{217,2422}{n21}{n211,n212,n213}
\branch{c211}{279,2464.5}{n211}{n2111}
\branch{c22}{272,2620}{n22}{n221,n222,n223}
\branch{c3}{153,2997}{n3}{n31}
\branch{c31}{209,3039}{n31}{n311,n312}
\branch{c4}{153,3166}{n4}{n41,n42,n43,n44}
\branch{c41}{204.5,3208}{n41}{n411,n412,n413}
\branch{c411}{259,3250}{n411}{n4111,n4112,n4113}
\branch{c412}{259,3420}{n412}{n4121,n4122,n4123,n4124}
\branch{c4124}{372.4,3604.5}{n4124}{n41241,n41242}
\branch{c41241}{441,3646.5}{n41241}{n412411,n412412,n412413,n412414,n412415}
\branch{c412414}{510,3760.4}{n412414}{n4124141}
\branch{c412415}{505,3826.5}{n412415}{n4124151}
\branch{c41242}{436,3892}{n41242}{n412421}
\branch{c413}{303.6,3986}{n413}{n4131,n4132,n4133,n4134,n4135,n4136,n4137,n4138,n4139,n41310}
\branch{c4137}{393.4,4172.7}{n4137}{n41371,n41372,n41373}
\branch{c41310}{371.4,4334.7}{n41310}{n413101}
\branch{c42}{204.6,4510}{n42}{n421,n422,n423,n424}
\branch{c421}{286.7,4598.4}{n421}{n4211,n4212,n4213}
\branch{c4213}{558.7,5094.3}{n4213}{n42131}
\branch{c422}{298.5,5160.4}{n422}{n4221,n4222}
\branch{c4221}{353.6,5202.4}{n4221}{n42211,n42212}
\branch{c4222}{358.7,5292.7}{n4222}{n42221,n42222}
\branch{c423}{279.6,5396.7}{n423}{n4231,n4232}
\branch{c424}{249.5,6116.3}{n424}{n4241,n4242,n4243,n4244,n4245,n4246}
\branch{c4241}{344.4,6158.4}{n4241}{n42411,n42412,n42413,n42414}
\branch{c4245}{427.6,6395.5}{n4245}{n42451}
\branch{c43}{204.6,6564}{n43}{n431,n432}
\branch{c432}{259.2,6630.6}{n432}{n4321,n4322}
\branch{c44}{213.3,6766.5}{n44}{n441,n442}
\branch{c441}{258.7,6808.6}{n441}{n4411,n4412,n4413}
\branch{c442}{268.4,6950.6}{n442}{n4421,n4422}
\branch{c4421}{328.6,6992.2}{n4421}{n44211,n44212,n44213,n44214}
\branch{c5}{185.2,7205.3}{n5}{n51,n52,n53}
\branch{c53}{281.6,7365.1}{n53}{n531,n532,n533,n534,n535,n536,n537}
\end{tikzpicture}
\end{document}
